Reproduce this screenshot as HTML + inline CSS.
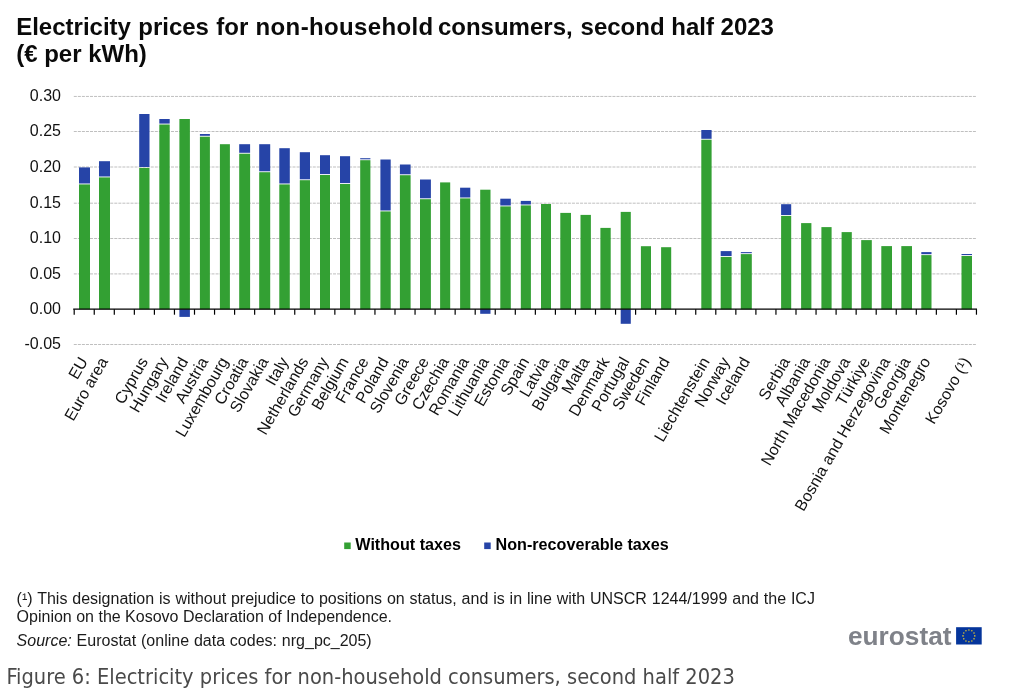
<!DOCTYPE html>
<html lang="en"><head><meta charset="utf-8"><title>Electricity prices for non-household consumers, second half 2023</title>
<style>
html,body{margin:0;padding:0;background:#fff;}
body{width:1014px;height:697px;position:relative;overflow:hidden;font-family:"Liberation Sans",Arial,sans-serif;color:#111;}
.t{position:absolute;white-space:nowrap;margin:0;}
.title{left:16.2px;top:12.6px;font-size:24px;font-weight:bold;line-height:27.4px;color:#0a0a0a;}
.fn{left:16.6px;font-size:16px;line-height:18.6px;color:#1a1a1a;}
.cap{left:6.4px;top:661.9px;font-size:21.65px;line-height:30px;color:#4a4a4a;font-family:"DejaVu Sans Condensed","DejaVu Sans","Liberation Sans",sans-serif;font-stretch:condensed;}
</style></head><body>
<svg width="1014" height="697" viewBox="0 0 1014 697" style="position:absolute;left:0;top:0">
<g stroke="#b4b4b4" stroke-width="0.85" stroke-dasharray="3 1.05" fill="none">
<line x1="73.8" y1="96.45" x2="976.6" y2="96.45"/>
<line x1="73.8" y1="131.50" x2="976.6" y2="131.50"/>
<line x1="73.8" y1="167.00" x2="976.6" y2="167.00"/>
<line x1="73.8" y1="203.20" x2="976.6" y2="203.20"/>
<line x1="73.8" y1="238.50" x2="976.6" y2="238.50"/>
<line x1="73.8" y1="273.90" x2="976.6" y2="273.90"/>
<line x1="73.8" y1="344.50" x2="976.6" y2="344.50"/>
</g>
<g font-family="'Liberation Sans', Arial, sans-serif" font-size="16" fill="#111" text-anchor="end">
<text x="61" y="101.05">0.30</text>
<text x="61" y="136.10">0.25</text>
<text x="61" y="171.60">0.20</text>
<text x="61" y="207.80">0.15</text>
<text x="61" y="243.10">0.10</text>
<text x="61" y="278.50">0.05</text>
<text x="61" y="313.90">0.00</text>
<text x="61" y="349.10">-0.05</text>
</g>
<g shape-rendering="auto">
<rect x="79.00" y="184.40" width="11.0" height="124.90" fill="#33A033"/>
<rect x="79.00" y="167.40" width="11.0" height="16.10" fill="#2644A7"/>
<rect x="99.00" y="177.40" width="11.0" height="131.90" fill="#33A033"/>
<rect x="99.00" y="161.20" width="11.0" height="15.30" fill="#2644A7"/>
<rect x="139.20" y="167.90" width="10.3" height="141.40" fill="#33A033"/>
<rect x="139.20" y="114.00" width="10.3" height="53.00" fill="#2644A7"/>
<rect x="159.30" y="124.50" width="10.4" height="184.80" fill="#33A033"/>
<rect x="159.30" y="119.00" width="10.4" height="4.60" fill="#2644A7"/>
<rect x="179.40" y="119.00" width="10.5" height="190.30" fill="#33A033"/>
<rect x="179.40" y="309.30" width="10.5" height="7.60" fill="#2644A7"/>
<rect x="199.90" y="136.70" width="10.0" height="172.60" fill="#33A033"/>
<rect x="199.90" y="134.00" width="10.0" height="1.80" fill="#2644A7"/>
<rect x="219.90" y="144.20" width="10.0" height="165.10" fill="#33A033"/>
<rect x="239.20" y="153.70" width="10.9" height="155.60" fill="#33A033"/>
<rect x="239.20" y="144.20" width="10.9" height="8.60" fill="#2644A7"/>
<rect x="259.20" y="172.20" width="11.0" height="137.10" fill="#33A033"/>
<rect x="259.20" y="144.20" width="11.0" height="27.10" fill="#2644A7"/>
<rect x="279.30" y="184.40" width="10.5" height="124.90" fill="#33A033"/>
<rect x="279.30" y="148.20" width="10.5" height="35.30" fill="#2644A7"/>
<rect x="299.80" y="180.20" width="10.2" height="129.10" fill="#33A033"/>
<rect x="299.80" y="152.20" width="10.2" height="27.10" fill="#2644A7"/>
<rect x="320.00" y="175.00" width="10.0" height="134.30" fill="#33A033"/>
<rect x="320.00" y="155.20" width="10.0" height="18.90" fill="#2644A7"/>
<rect x="340.00" y="184.00" width="10.1" height="125.30" fill="#33A033"/>
<rect x="340.00" y="156.20" width="10.1" height="26.90" fill="#2644A7"/>
<rect x="360.20" y="160.20" width="10.2" height="149.10" fill="#33A033"/>
<rect x="360.20" y="158.20" width="10.2" height="1.10" fill="#2644A7"/>
<rect x="380.40" y="211.40" width="10.3" height="97.90" fill="#33A033"/>
<rect x="380.40" y="159.50" width="10.3" height="51.00" fill="#2644A7"/>
<rect x="399.90" y="175.20" width="10.7" height="134.10" fill="#33A033"/>
<rect x="399.90" y="164.50" width="10.7" height="9.80" fill="#2644A7"/>
<rect x="420.00" y="199.20" width="10.9" height="110.10" fill="#33A033"/>
<rect x="420.00" y="179.50" width="10.9" height="18.80" fill="#2644A7"/>
<rect x="440.10" y="182.40" width="10.1" height="126.90" fill="#33A033"/>
<rect x="460.10" y="198.40" width="10.2" height="110.90" fill="#33A033"/>
<rect x="460.10" y="187.70" width="10.2" height="9.80" fill="#2644A7"/>
<rect x="480.20" y="189.70" width="10.3" height="119.60" fill="#33A033"/>
<rect x="480.20" y="309.30" width="10.3" height="4.50" fill="#2644A7"/>
<rect x="500.30" y="206.40" width="10.5" height="102.90" fill="#33A033"/>
<rect x="500.30" y="198.70" width="10.5" height="6.80" fill="#2644A7"/>
<rect x="520.80" y="205.40" width="10.1" height="103.90" fill="#33A033"/>
<rect x="520.80" y="200.90" width="10.1" height="3.60" fill="#2644A7"/>
<rect x="541.00" y="204.00" width="10.0" height="105.30" fill="#33A033"/>
<rect x="560.30" y="212.90" width="10.7" height="96.40" fill="#33A033"/>
<rect x="580.50" y="214.90" width="10.4" height="94.40" fill="#33A033"/>
<rect x="600.40" y="227.90" width="10.3" height="81.40" fill="#33A033"/>
<rect x="620.70" y="211.90" width="10.1" height="97.40" fill="#33A033"/>
<rect x="620.70" y="309.30" width="10.1" height="14.50" fill="#2644A7"/>
<rect x="640.90" y="246.20" width="10.1" height="63.10" fill="#33A033"/>
<rect x="661.10" y="247.20" width="10.1" height="62.10" fill="#33A033"/>
<rect x="701.30" y="139.70" width="10.3" height="169.60" fill="#33A033"/>
<rect x="701.30" y="130.00" width="10.3" height="8.80" fill="#2644A7"/>
<rect x="720.70" y="256.90" width="10.9" height="52.40" fill="#33A033"/>
<rect x="720.70" y="251.10" width="10.9" height="4.90" fill="#2644A7"/>
<rect x="740.80" y="254.10" width="11.0" height="55.20" fill="#33A033"/>
<rect x="740.80" y="252.10" width="11.0" height="1.10" fill="#2644A7"/>
<rect x="781.10" y="215.90" width="10.1" height="93.40" fill="#33A033"/>
<rect x="781.10" y="204.20" width="10.1" height="10.80" fill="#2644A7"/>
<rect x="801.10" y="223.10" width="10.3" height="86.20" fill="#33A033"/>
<rect x="821.40" y="227.10" width="10.2" height="82.20" fill="#33A033"/>
<rect x="841.60" y="232.10" width="10.2" height="77.20" fill="#33A033"/>
<rect x="861.20" y="240.10" width="10.6" height="69.20" fill="#33A033"/>
<rect x="881.30" y="246.10" width="10.7" height="63.20" fill="#33A033"/>
<rect x="901.30" y="246.10" width="10.7" height="63.20" fill="#33A033"/>
<rect x="921.30" y="255.10" width="10.2" height="54.20" fill="#33A033"/>
<rect x="921.30" y="252.10" width="10.2" height="2.10" fill="#2644A7"/>
<rect x="961.50" y="256.00" width="10.5" height="53.30" fill="#33A033"/>
<rect x="961.50" y="254.00" width="10.5" height="1.10" fill="#2644A7"/>
</g>
<g stroke="#000" stroke-width="1.2" fill="none"><line x1="73.2" y1="309.2" x2="977" y2="309.2"/>
<line x1="74.20" y1="309.2" x2="74.20" y2="314.7"/>
<line x1="94.25" y1="309.2" x2="94.25" y2="314.7"/>
<line x1="114.30" y1="309.2" x2="114.30" y2="314.7"/>
<line x1="134.35" y1="309.2" x2="134.35" y2="314.7"/>
<line x1="154.40" y1="309.2" x2="154.40" y2="314.7"/>
<line x1="174.45" y1="309.2" x2="174.45" y2="314.7"/>
<line x1="194.50" y1="309.2" x2="194.50" y2="314.7"/>
<line x1="214.55" y1="309.2" x2="214.55" y2="314.7"/>
<line x1="234.60" y1="309.2" x2="234.60" y2="314.7"/>
<line x1="254.65" y1="309.2" x2="254.65" y2="314.7"/>
<line x1="274.70" y1="309.2" x2="274.70" y2="314.7"/>
<line x1="294.75" y1="309.2" x2="294.75" y2="314.7"/>
<line x1="314.80" y1="309.2" x2="314.80" y2="314.7"/>
<line x1="334.85" y1="309.2" x2="334.85" y2="314.7"/>
<line x1="354.90" y1="309.2" x2="354.90" y2="314.7"/>
<line x1="374.95" y1="309.2" x2="374.95" y2="314.7"/>
<line x1="395.00" y1="309.2" x2="395.00" y2="314.7"/>
<line x1="415.05" y1="309.2" x2="415.05" y2="314.7"/>
<line x1="435.10" y1="309.2" x2="435.10" y2="314.7"/>
<line x1="455.15" y1="309.2" x2="455.15" y2="314.7"/>
<line x1="475.20" y1="309.2" x2="475.20" y2="314.7"/>
<line x1="495.25" y1="309.2" x2="495.25" y2="314.7"/>
<line x1="515.30" y1="309.2" x2="515.30" y2="314.7"/>
<line x1="535.35" y1="309.2" x2="535.35" y2="314.7"/>
<line x1="555.40" y1="309.2" x2="555.40" y2="314.7"/>
<line x1="575.45" y1="309.2" x2="575.45" y2="314.7"/>
<line x1="595.50" y1="309.2" x2="595.50" y2="314.7"/>
<line x1="615.55" y1="309.2" x2="615.55" y2="314.7"/>
<line x1="635.60" y1="309.2" x2="635.60" y2="314.7"/>
<line x1="655.65" y1="309.2" x2="655.65" y2="314.7"/>
<line x1="675.70" y1="309.2" x2="675.70" y2="314.7"/>
<line x1="695.75" y1="309.2" x2="695.75" y2="314.7"/>
<line x1="715.80" y1="309.2" x2="715.80" y2="314.7"/>
<line x1="735.85" y1="309.2" x2="735.85" y2="314.7"/>
<line x1="755.90" y1="309.2" x2="755.90" y2="314.7"/>
<line x1="775.95" y1="309.2" x2="775.95" y2="314.7"/>
<line x1="796.00" y1="309.2" x2="796.00" y2="314.7"/>
<line x1="816.05" y1="309.2" x2="816.05" y2="314.7"/>
<line x1="836.10" y1="309.2" x2="836.10" y2="314.7"/>
<line x1="856.15" y1="309.2" x2="856.15" y2="314.7"/>
<line x1="876.20" y1="309.2" x2="876.20" y2="314.7"/>
<line x1="896.25" y1="309.2" x2="896.25" y2="314.7"/>
<line x1="916.30" y1="309.2" x2="916.30" y2="314.7"/>
<line x1="936.35" y1="309.2" x2="936.35" y2="314.7"/>
<line x1="956.40" y1="309.2" x2="956.40" y2="314.7"/>
<line x1="976.45" y1="309.2" x2="976.45" y2="314.7"/>
</g>
<g font-family="'Liberation Sans', Arial, sans-serif" font-size="16" fill="#111" text-anchor="end">
<text x="83.53" y="358.5" dy="5.5" transform="rotate(-60 83.53 358.5)">EU</text>
<text x="103.59" y="358.5" dy="5.5" transform="rotate(-60 103.59 358.5)">Euro area</text>
<text x="143.72" y="358.5" dy="5.5" transform="rotate(-60 143.72 358.5)">Cyprus</text>
<text x="163.78" y="358.5" dy="5.5" transform="rotate(-60 163.78 358.5)">Hungary</text>
<text x="183.84" y="358.5" dy="5.5" transform="rotate(-60 183.84 358.5)">Ireland</text>
<text x="203.90" y="358.5" dy="5.5" transform="rotate(-60 203.90 358.5)">Austria</text>
<text x="223.96" y="358.5" dy="5.5" transform="rotate(-60 223.96 358.5)">Luxembourg</text>
<text x="244.03" y="358.5" dy="5.5" transform="rotate(-60 244.03 358.5)">Croatia</text>
<text x="264.09" y="358.5" dy="5.5" transform="rotate(-60 264.09 358.5)">Slovakia</text>
<text x="284.15" y="358.5" dy="5.5" transform="rotate(-60 284.15 358.5)">Italy</text>
<text x="304.21" y="358.5" dy="5.5" transform="rotate(-60 304.21 358.5)">Netherlands</text>
<text x="324.27" y="358.5" dy="5.5" transform="rotate(-60 324.27 358.5)">Germany</text>
<text x="344.34" y="358.5" dy="5.5" transform="rotate(-60 344.34 358.5)">Belgium</text>
<text x="364.40" y="358.5" dy="5.5" transform="rotate(-60 364.40 358.5)">France</text>
<text x="384.46" y="358.5" dy="5.5" transform="rotate(-60 384.46 358.5)">Poland</text>
<text x="404.52" y="358.5" dy="5.5" transform="rotate(-60 404.52 358.5)">Slovenia</text>
<text x="424.59" y="358.5" dy="5.5" transform="rotate(-60 424.59 358.5)">Greece</text>
<text x="444.65" y="358.5" dy="5.5" transform="rotate(-60 444.65 358.5)">Czechia</text>
<text x="464.71" y="358.5" dy="5.5" transform="rotate(-60 464.71 358.5)">Romania</text>
<text x="484.77" y="358.5" dy="5.5" transform="rotate(-60 484.77 358.5)">Lithuania</text>
<text x="504.83" y="358.5" dy="5.5" transform="rotate(-60 504.83 358.5)">Estonia</text>
<text x="524.90" y="358.5" dy="5.5" transform="rotate(-60 524.90 358.5)">Spain</text>
<text x="544.96" y="358.5" dy="5.5" transform="rotate(-60 544.96 358.5)">Latvia</text>
<text x="565.02" y="358.5" dy="5.5" transform="rotate(-60 565.02 358.5)">Bulgaria</text>
<text x="585.08" y="358.5" dy="5.5" transform="rotate(-60 585.08 358.5)">Malta</text>
<text x="605.14" y="358.5" dy="5.5" transform="rotate(-60 605.14 358.5)">Denmark</text>
<text x="625.21" y="358.5" dy="5.5" transform="rotate(-60 625.21 358.5)">Portugal</text>
<text x="645.27" y="358.5" dy="5.5" transform="rotate(-60 645.27 358.5)">Sweden</text>
<text x="665.33" y="358.5" dy="5.5" transform="rotate(-60 665.33 358.5)">Finland</text>
<text x="705.45" y="358.5" dy="5.5" transform="rotate(-60 705.45 358.5)">Liechtenstein</text>
<text x="725.51" y="358.5" dy="5.5" transform="rotate(-60 725.51 358.5)">Norway</text>
<text x="745.58" y="358.5" dy="5.5" transform="rotate(-60 745.58 358.5)">Iceland</text>
<text x="785.70" y="358.5" dy="5.5" transform="rotate(-60 785.70 358.5)">Serbia</text>
<text x="805.76" y="358.5" dy="5.5" transform="rotate(-60 805.76 358.5)">Albania</text>
<text x="825.83" y="358.5" dy="5.5" transform="rotate(-60 825.83 358.5)">North Macedonia</text>
<text x="845.89" y="358.5" dy="5.5" transform="rotate(-60 845.89 358.5)">Moldova</text>
<text x="865.95" y="358.5" dy="5.5" transform="rotate(-60 865.95 358.5)">Türkiye</text>
<text x="886.01" y="358.5" dy="5.5" transform="rotate(-60 886.01 358.5)">Bosnia and Herzegovina</text>
<text x="906.07" y="358.5" dy="5.5" transform="rotate(-60 906.07 358.5)">Georgia</text>
<text x="926.14" y="358.5" dy="5.5" transform="rotate(-60 926.14 358.5)">Montenegro</text>
<text x="966.26" y="358.5" dy="5.5" transform="rotate(-60 966.26 358.5)">Kosovo (¹)</text>
</g>
<rect x="344.2" y="542.5" width="6.5" height="6.6" fill="#33A033"/>
<rect x="484.2" y="542.5" width="6.5" height="6.6" fill="#2644A7"/>
<g font-family="'Liberation Sans', Arial, sans-serif" font-size="16.15" font-weight="bold" fill="#000">
<text x="355.3" y="549.8">Without taxes</text>
<text x="495.6" y="549.8">Non-recoverable taxes</text>
</g>
<rect x="956.1" y="627.2" width="25.6" height="17.3" fill="#05359b"/>
<g fill="#dcc232">
<circle cx="968.90" cy="630.00" r="0.8"/>
<circle cx="971.85" cy="630.79" r="0.8"/>
<circle cx="974.01" cy="632.95" r="0.8"/>
<circle cx="974.80" cy="635.90" r="0.8"/>
<circle cx="974.01" cy="638.85" r="0.8"/>
<circle cx="971.85" cy="641.01" r="0.8"/>
<circle cx="968.90" cy="641.80" r="0.8"/>
<circle cx="965.95" cy="641.01" r="0.8"/>
<circle cx="963.79" cy="638.85" r="0.8"/>
<circle cx="963.00" cy="635.90" r="0.8"/>
<circle cx="963.79" cy="632.95" r="0.8"/>
<circle cx="965.95" cy="630.79" r="0.8"/>
</g>
<text x="848" y="644.5" font-family="'Liberation Sans', Arial, sans-serif" font-size="26" font-weight="bold" fill="#7f8289" textLength="103.5" lengthAdjust="spacingAndGlyphs">eurostat</text>
</svg>
<div class="t title"><span style="word-spacing:.65px">Electricity prices for </span><span style="letter-spacing:.36px">non-household</span><span style="word-spacing:-2.3px"> </span>consumers,<span style="word-spacing:1.2px"> </span>second half 2023<br>(€ per kWh)</div>
<div class="t fn" style="top:589.8px"><span style="word-spacing:.42px">(¹) This designation is without prejudice to positions on status, and is in line with UNSCR 1244/1999 and the ICJ</span><br>Opinion on the Kosovo Declaration of Independence.</div>
<div class="t fn" style="top:631.8px;word-spacing:.4px"><i>Source:</i> Eurostat (online data codes: nrg_pc_205)</div>
<div class="t cap">Figure 6: Electricity prices for non-household consumers, second half 2023</div>
</body></html>
